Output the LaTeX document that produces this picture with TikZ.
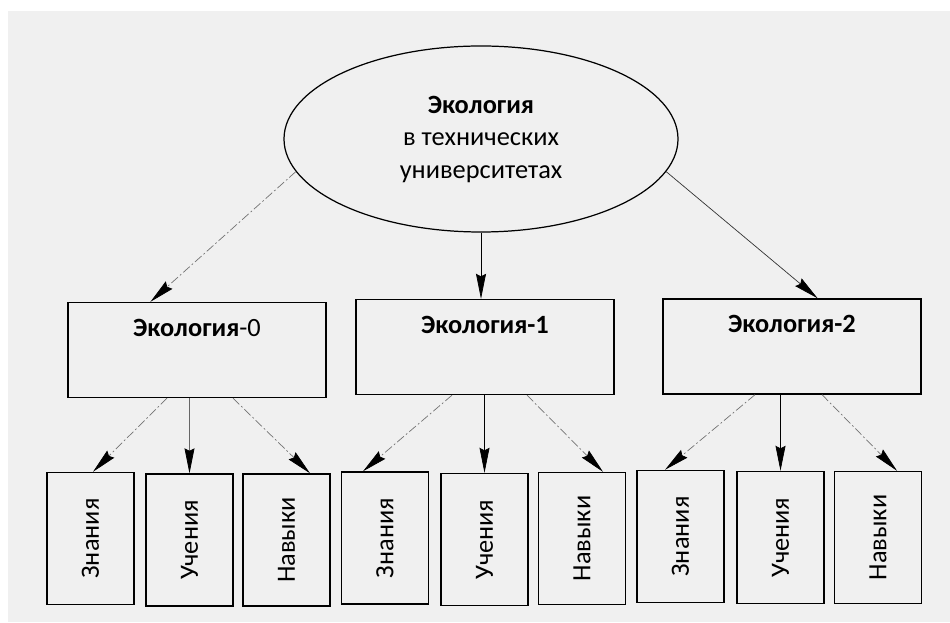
\documentclass[tikz,border=0pt]{standalone}
\usepackage{fontspec}
\setmainfont{Carlito}
\usetikzlibrary{arrows.meta, shapes.geometric, scopes}
\definecolor{scanbg}{gray}{0.94}

\begin{document}
\begin{tikzpicture}[thin, font=\fontsize{15}{18.5}\selectfont,
		arr/.style={-{Stealth[length=5mm, width=2mm, inset=0.5mm, color=black]}},
		side/.style={draw=black!55, dash pattern=on 5pt off 1.5pt on 1pt off 1.5pt}]
	\useasboundingbox (0,0) rectangle (19,12.44);
	\fill[scanbg] (0.16,0) rectangle (19,12.22);

	\node[draw, ellipse, line width=0.7pt, minimum width=7.88cm, minimum height=3.72cm, inner sep=0pt, align=center] (eco) at (9.62,9.66) {\textbf{Экология}\\в технических\\университетах};

	{ [rectangle, line width=0.8pt, minimum width=5.16cm, minimum height=1.9cm, text depth=0.9cm]
		\node[draw] (e0) at (3.94,5.44) {\textbf{Экология}-0};
		\node[draw] (e1) at (9.70,5.50) {\textbf{Экология-1}};
		\node[draw] (e2) at (15.84,5.51) {\textbf{Экология-2}};
	}

	{ [rectangle, line width=0.8pt, minimum width=1.74cm, minimum height=2.64cm]
		\node[draw] (z0) at (1.81,1.67) {\rotatebox{90}{Знания}};
		\node[draw] (u0) at (3.79,1.64) {\rotatebox{90}{Учения}};
		\node[draw] (n0) at (5.73,1.64) {\rotatebox{90}{Навыки}};
		\node[draw] (z1) at (7.70,1.68) {\rotatebox{90}{Знания}};
		\node[draw] (u1) at (9.69,1.65) {\rotatebox{90}{Учения}};
		\node[draw] (n1) at (11.64,1.67) {\rotatebox{90}{Навыки}};
		\node[draw] (z2) at (13.61,1.71) {\rotatebox{90}{Знания}};
		\node[draw] (u2) at (15.61,1.69) {\rotatebox{90}{Учения}};
		\node[draw] (n2) at (17.56,1.69) {\rotatebox{90}{Навыки}};
	}

	\draw[arr, side] (eco.190) -- (e0.134);
	\draw[arr] (eco.south) -- (eco.south |- e1.north);
	\draw[arr, draw=black!80] (eco.350) -- (e2.62);

	\draw[arr, side] ([xshift=-0.6cm]e0.south) -- ([xshift=0.05cm]z0.north);
	\draw[arr, draw=black!60] (e0.south -| u0) -- (u0.north);
	\draw[arr, side] ([xshift=0.72cm]e0.south) -- ([xshift=0.47cm]n0.north);

	\draw[arr, side] ([xshift=-0.66cm]e1.south) -- ([xshift=-0.44cm]z1.north);
	\draw[arr] (e1.south -| u1) -- (u1.north);
	\draw[arr, side] ([xshift=0.84cm]e1.south) -- ([xshift=0.42cm]n1.north);

	\draw[arr, side] ([xshift=-0.74cm]e2.south) -- ([xshift=-0.31cm]z2.north);
	\draw[arr] (e2.south -| u2) -- (u2.north);
	\draw[arr, side] ([xshift=0.6cm]e2.south) -- ([xshift=0.38cm]n2.north);
\end{tikzpicture}
\end{document}
